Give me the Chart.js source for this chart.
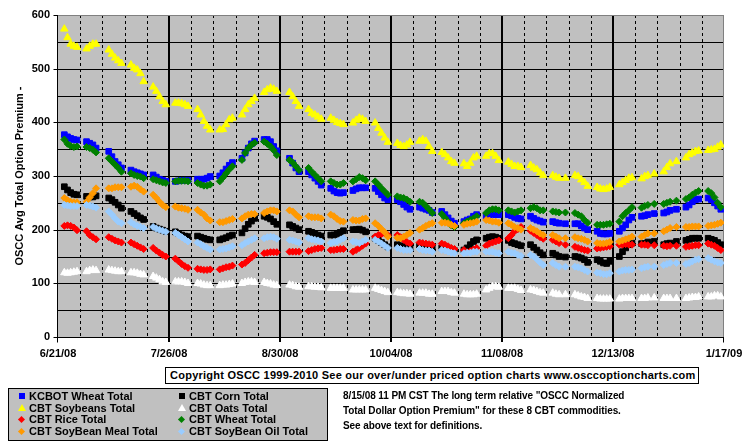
<!DOCTYPE html>
<html><head><meta charset="utf-8">
<script src="https://cdn.jsdelivr.net/npm/chart.js@4/dist/chart.umd.min.js"></script>
<style>
body{margin:0;background:#fff;}
#wrap{position:relative;width:755px;height:446px;overflow:hidden;font-family:"Liberation Sans",Arial,sans-serif;font-weight:bold;font-size:11px;color:#000;}
#c{position:absolute;left:0;top:0;}
#copy{position:absolute;left:165px;top:367px;width:528px;height:15px;border:1px solid #000;background:#fff;line-height:15px;padding-left:4px;white-space:nowrap;letter-spacing:0.25px;}
#legend{position:absolute;left:8px;top:388px;width:318px;height:51px;border:1px solid #000;background:#c0c0c0;}
.item{position:absolute;height:12px;line-height:12px;white-space:nowrap;}
.mk{position:absolute;}
.note{position:absolute;left:343px;white-space:nowrap;line-height:15px;height:15px;font-size:10px;letter-spacing:-0.1px;}
</style></head>
<body>
<div id="wrap">
<canvas id="c" width="755" height="446"></canvas>
<div id="copy">Copyright OSCC 1999-2010 See our over/under priced option charts www.osccoptioncharts.com</div>
<div id="legend"></div>
<div class="note" style="top:388px">8/15/08 11 PM CST The long term relative "OSCC Normalized</div>
<div class="note" style="top:403px">Total Dollar Option Premium" for these 8 CBT commodities.</div>
<div class="note" style="top:418px">See above text for definitions.</div>
</div>
<script>
// ---- categories (trading days) ----
const startDate = '2008-06-21';
const lastDayOffset = 209; // 1/16/09
const holidays = ['2008-07-04','2008-09-01','2008-11-27','2008-12-25','2009-01-01'];
const tickLabels = ['6/21/08','7/26/08','8/30/08','10/04/08','11/08/08','12/13/08','1/17/09'];

// ---- series values (one per trading day, grouped by week) ----
const kcbotWheat = [
 377,373,370,368,367, 364,361,358,352, 346,336,327,321,315, 311,308,306,304,302, 302,298,294,292,290,
 290,291,292,292,292, 294,294,294,296,299, 300,306,313,320,325, 333,343,352,360,365, 368,368,364,355,347,
 333,324,315,308, 308,302,296,290,283, 277,272,269,268,269, 273,276,278,278,278, 277,271,265,259,256,
 256,252,247,242,238, 242,240,238,236,232, 234,228,222,216,212, 215,218,220,225,228, 225,228,229,228,228,
 228,226,223,221,220, 225,221,218,216,214, 215,213,212,211, 211,211,207,203,200, 197,193,192,192,193,
 197,203,209,218,223, 225,226,228,230, 231,233,236,238, 242,246,252,256,257, 259,256,250,244,238];
const cbtCorn = [
 280,274,269,266,265, 262,261,261,263, 259,256,251,246,240, 234,230,226,222,219, 206,203,201,199,197,
 196,193,190,188,187, 188,186,184,182,181, 181,183,185,188,190, 194,202,210,216,221, 225,223,220,215,210,
 209,206,203,200, 197,195,193,190,188, 190,190,192,195,198, 200,200,201,199,196, 184,180,176,172,168,
 172,170,169,169,168, 170,169,167,167,167, 166,164,162,161,161, 162,166,172,178,181, 184,186,187,186,184,
 180,176,174,172,170, 172,167,162,157,153, 156,153,150,149, 150,149,147,144,139, 144,141,138,137,141,
 150,159,166,172,175, 174,174,177,178, 172,174,175,178, 180,182,184,184,184, 184,182,180,176,172];
const cbtSoybeans = [
 574,558,546,542,540, 537,542,546,546, 535,527,520,515,510, 507,501,498,491,476, 466,458,448,439,433,
 436,436,435,433,430, 424,414,402,393,386, 386,387,396,405,408, 414,424,433,439,445, 456,461,464,462,458,
 456,448,439,430, 424,417,414,410,406, 408,404,400,398,396, 399,404,408,406,402, 399,389,380,371,363,
 361,357,355,358,363, 365,368,365,355,346, 344,340,334,327,324, 323,318,324,334,337, 337,342,342,337,329,
 326,322,318,318,316, 320,315,312,306,301, 301,298,296,296, 301,299,293,288,281, 279,276,275,276,279,
 284,288,292,296,297, 295,299,301,304, 308,316,323,327, 334,340,343,346,347, 348,349,350,354,358];
const cbtOats = [
 120,119,120,121,122, 122,124,125,124, 125,124,123,122,122, 120,120,119,117,116, 113,110,107,103,102,
 103,103,103,102,100, 100,99,97,96,96, 96,97,97,98,99, 100,102,103,103,102, 102,100,99,97,96,
 97,96,94,93, 94,94,93,93,92, 91,91,91,91,91, 88,88,88,88,88, 91,89,87,85,83,
 83,82,81,81,80, 82,82,82,80,80, 85,85,85,83,82, 80,79,79,79,80, 88,91,94,94,93,
 91,91,91,89,87, 88,87,85,83,82, 82,80,79,79, 79,77,75,74,72, 72,71,71,71,71,
 71,72,72,72,72, 72,72,73,73, 72,72,72,72, 72,73,74,74,75, 75,75,77,77,75];
const cbtRice = [
 207,208,207,204,199, 197,190,186,182, 186,183,180,178,176, 176,173,170,167,164, 166,161,157,153,150,
 146,141,136,132,129, 127,126,125,125,126, 126,128,130,131,133, 135,138,143,148,153, 156,157,158,158,158,
 159,159,159,159, 160,162,164,165,166, 162,162,163,164,164, 159,162,166,170,174, 187,190,192,193,190,
 190,186,181,177,174, 176,175,174,173,172, 174,172,169,166,164, 162,158,160,163,166, 170,174,176,178,180,
 184,190,197,201,205, 198,194,190,186,183, 181,178,175,172, 168,166,164,162,161, 165,166,167,168,169,
 172,172,173,172,172, 172,172,171,171, 170,169,170,170, 168,169,170,171,171, 174,172,170,166,162];
const cbtWheat = [
 368,360,356,354,355, 354,352,349,344, 333,327,321,315,308, 305,302,300,299,296, 294,292,290,288,287,
 290,291,291,291,290, 287,284,282,282,284, 290,297,305,312,318, 330,343,352,358,362, 364,360,355,348,339,
 330,325,318,311, 315,308,302,296,290, 290,287,284,284,287, 290,294,298,296,292, 290,284,277,271,265,
 262,260,259,256,252, 252,250,244,238,231, 229,222,215,208,205, 212,215,218,221,225, 231,236,238,238,236,
 236,234,232,234,236, 240,242,240,236,236, 234,233,232,232, 231,228,225,218,213, 209,209,209,210,211,
 215,225,231,236,242, 241,244,246,248, 248,250,252,254, 257,260,265,269,272, 272,268,260,250,242];
const cbtSoyMeal = [
 259,255,252,251,251, 252,260,268,277, 277,277,279,279,279, 280,282,280,275,271, 265,259,252,246,242,
 243,241,240,239,237, 237,232,228,221,217, 214,214,216,218,220, 221,225,228,229,229, 231,234,236,236,234,
 236,234,228,223, 225,223,223,223,221, 228,225,220,216,215, 218,217,217,220,221, 212,207,201,195,187,
 185,184,187,190,194, 200,203,207,210,212, 213,213,212,209,207, 209,211,212,213,215, 218,217,215,215,213,
 212,209,205,203,200, 203,200,197,193,190, 190,187,184,184, 186,184,183,181,178, 175,174,174,175,177,
 178,180,182,184,187, 187,190,193,193, 197,200,203,205, 205,205,206,206,206, 207,208,209,211,213];
const cbtSoyOil = [
 246,245,244,244,244, 246,245,243,241, 234,228,221,215,212, 214,210,207,205,203, 205,202,200,198,196,
 194,190,186,182,178, 176,173,169,166,163, 163,164,165,167,169, 171,175,178,181,184, 184,186,187,186,183,
 181,180,178,176, 184,182,181,180,178, 175,177,178,181,184, 178,177,175,178,181, 181,178,174,170,166,
 166,164,162,162,162, 164,162,161,161,159, 162,161,159,157,156, 156,157,157,159,159, 159,159,159,157,156,
 159,157,156,153,151, 153,150,145,139,134, 138,134,131,131, 131,130,128,125,122, 120,119,117,117,119,
 122,124,125,125,126, 128,130,131,131, 134,136,138,138, 136,138,141,144,145, 147,144,141,139,138];

// ---- build trading day list ----
const t0 = Date.UTC(2008, 5, 21);
const tradingDays = [];
for (let d = 0; d <= lastDayOffset; d++) {
  const dt = new Date(t0 + d * 86400000);
  const wd = dt.getUTCDay();
  const iso = dt.toISOString().slice(0, 10);
  if (wd >= 1 && wd <= 5 && !holidays.includes(iso)) tradingDays.push(d);
}

const seriesDefs = [
  {label:'KCBOT Wheat Total', values:kcbotWheat, color:'#0000FF', shape:'rect', r:4},
  {label:'CBT Corn Total', values:cbtCorn, color:'#000000', shape:'rect', r:4},
  {label:'CBT Soybeans Total', values:cbtSoybeans, color:'#FFFF00', shape:'triangle', r:4.3},
  {label:'CBT Oats Total', values:cbtOats, color:'#FFFFFF', shape:'triangle', r:4.3},
  {label:'CBT Rice Total', values:cbtRice, color:'#FF0000', shape:'rectRot', r:3.5},
  {label:'CBT Wheat Total', values:cbtWheat, color:'#008000', shape:'rectRot', r:3.5},
  {label:'CBT SoyBean Meal Total', values:cbtSoyMeal, color:'#FF9900', shape:'rectRot', r:3.5},
  {label:'CBT SoyBean Oil Total', values:cbtSoyOil, color:'#99CCFF', shape:'rectRot', r:3.5}
];

const datasets = seriesDefs.map((s, i) => ({
  label: s.label,
  data: tradingDays.map((d, k) => ({x: d, y: s.values[k]})),
  pointStyle: s.shape,
  pointRadius: s.r,
  pointBackgroundColor: s.color,
  pointBorderColor: s.color,
  pointBorderWidth: 1,
  showLine: false,
  order: seriesDefs.length - i
}));

const FONT = 'Liberation Sans, Arial, sans-serif';

const excelGrid = {
  id: 'excelGrid',
  beforeDatasetsDraw(chart) {
    const {ctx, chartArea: a, scales: {x, y}} = chart;
    ctx.save();
    ctx.fillStyle = '#c0c0c0';
    ctx.fillRect(a.left, a.top, a.right - a.left, a.bottom - a.top);
    const ln = (x1, y1, x2, y2) => { ctx.beginPath(); ctx.moveTo(x1, y1); ctx.lineTo(x2, y2); ctx.stroke(); };
    ctx.strokeStyle = '#000';
    ctx.lineWidth = 1;
    for (let v = 50; v < 600; v += 50) {
      const py = Math.round(y.getPixelForValue(v)) + 0.5;
      ln(a.left, py, a.right, py);
    }
    for (let d = 7; d < 210; d += 7) {
      const px = x.getPixelForValue(d);
      if (d % 35 === 0) {
        ctx.setLineDash([]); ctx.lineWidth = 2;
        const p = Math.round(px);
        ln(p, a.top, p, a.bottom + 5);
      } else {
        ctx.setLineDash([3, 3]); ctx.lineWidth = 1;
        const p = Math.round(px) + 0.5;
        ln(p, a.top, p, a.bottom);
      }
    }
    ctx.setLineDash([]);
    ctx.lineWidth = 1;
    ctx.strokeStyle = '#808080';
    ln(a.left, Math.round(a.top) + 0.5, a.right, Math.round(a.top) + 0.5);
    ln(Math.round(a.right) - 0.5, a.top, Math.round(a.right) - 0.5, a.bottom);
    ctx.strokeStyle = '#000';
    const lx = Math.round(a.left) - 0.5, by = Math.round(a.bottom) + 0.5;
    ln(lx, a.top, lx, by);
    ln(a.left - 1, by, a.right, by);
    for (let v = 0; v <= 600; v += 100) {
      const py = Math.round(y.getPixelForValue(v)) + 0.5;
      ln(lx - 4, py, lx, py);
    }
    ln(lx, by, lx, by + 5);
    ln(Math.round(a.right) - 0.5, by, Math.round(a.right) - 0.5, by + 5);
    ctx.restore();
  }
};

new Chart(document.getElementById('c'), {
  type: 'scatter',
  data: {datasets},
  plugins: [excelGrid],
  options: {
    responsive: false,
    animation: false,
    devicePixelRatio: 1,
    layout: {padding: {top: 15, right: 31, bottom: 79, left: 0}},
    plugins: {legend: {display: false}, tooltip: {enabled: false}},
    scales: {
      x: {
        type: 'linear', min: 0, max: 210,
        grid: {display: false, drawTicks: false}, border: {display: false},
        afterFit: s => { s.height = 30; },
        ticks: {
          stepSize: 35, autoSkip: false, maxRotation: 0, padding: 10, color: '#000',
          font: {family: FONT, size: 11, weight: 'bold'},
          callback: v => tickLabels[Math.round(v / 35)]
        }
      },
      y: {
        min: 0, max: 600,
        grid: {display: false, drawTicks: false}, border: {display: false},
        afterFit: s => { s.width = 58; },
        ticks: {stepSize: 100, padding: 8, color: '#000', font: {family: FONT, size: 11, weight: 'bold'}},
        title: {display: true, text: 'OSCC Avg Total Option Premium -', color: '#000',
          font: {family: FONT, size: 11, weight: 'bold'}, padding: {top: 13, bottom: 0}}
      }
    }
  }
});

// ---- legend (HTML) ----
const wrap = document.getElementById('wrap');
seriesDefs.forEach((s, i) => {
  const col = i % 2, row = Math.floor(i / 2);
  const cy = 395.7 + row * 11.8;
  const mx = col ? 181.7 : 21.7;
  const tx = col ? 189 : 29;
  const mk = document.createElement('div');
  mk.className = 'mk';
  if (s.shape === 'rect') {
    Object.assign(mk.style, {left: (mx - 3) + 'px', top: (cy - 3) + 'px', width: '6px', height: '6px', background: s.color});
  } else if (s.shape === 'triangle') {
    Object.assign(mk.style, {left: (mx - 4) + 'px', top: (cy - 4) + 'px', width: '0', height: '0',
      borderLeft: '4px solid transparent', borderRight: '4px solid transparent', borderBottom: '7px solid ' + s.color});
  } else {
    Object.assign(mk.style, {left: (mx - 2.5) + 'px', top: (cy - 2.5) + 'px', width: '5px', height: '5px', background: s.color, transform: 'rotate(45deg)'});
  }
  wrap.appendChild(mk);
  const it = document.createElement('div');
  it.className = 'item';
  it.textContent = s.label;
  Object.assign(it.style, {left: tx + 'px', top: (cy - 6) + 'px'});
  wrap.appendChild(it);
});
</script>
</body></html>
